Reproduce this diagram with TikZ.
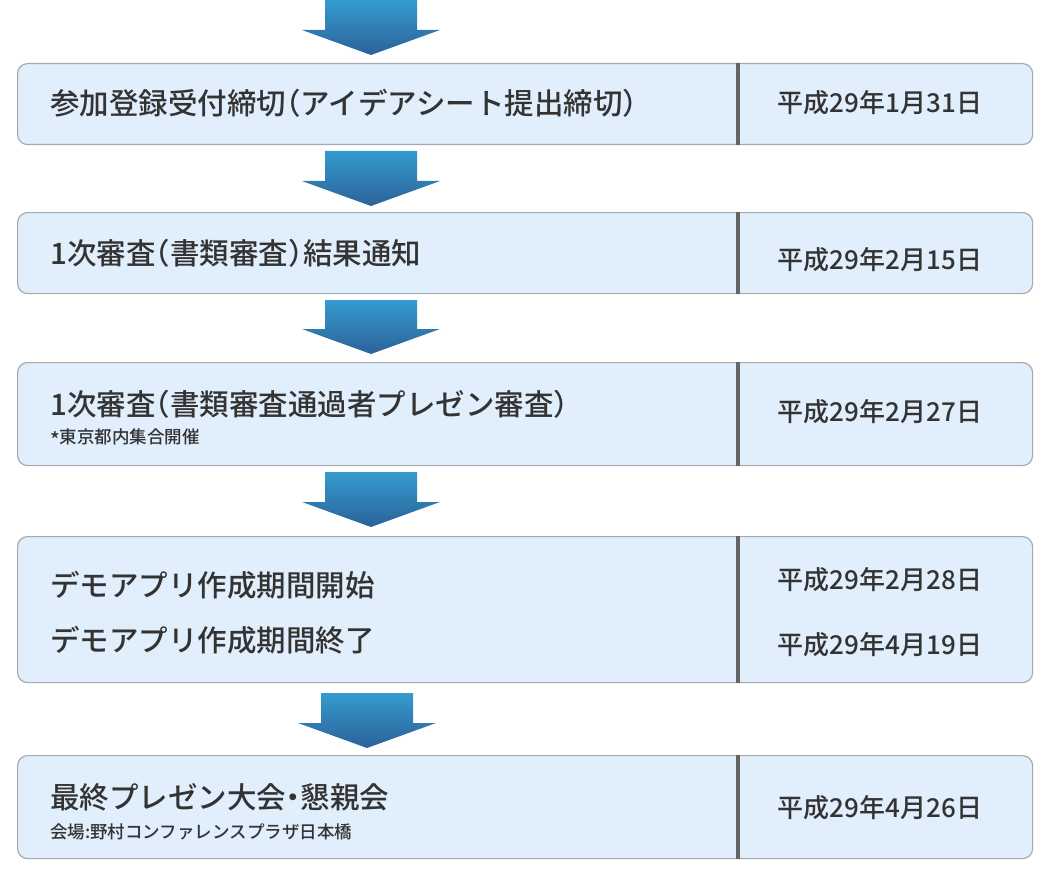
\documentclass[tikz,border=0pt]{standalone}
\usepackage{fontspec}
\newfontfamily\jpfont{Noto Sans CJK JP Medium}
\newfontfamily\jphalf[RawFeature=+halt]{Noto Sans CJK JP Medium}
\newcommand\hp[1]{{\jphalf #1}}
\definecolor{boxfill}{RGB}{225,238,252}
\definecolor{boxline}{RGB}{165,170,178}
\definecolor{divline}{RGB}{100,100,100}
\definecolor{txt}{RGB}{51,51,51}
\definecolor{arrtop}{RGB}{52,155,206}
\definecolor{arrbot}{RGB}{44,98,154}
\newcommand\flowarrow[4]{% center x, top y, tip y, name
  \shade[top color=arrtop, bottom color=arrbot]
    (#1-46,#2) -- (#1+46,#2) -- (#1+46,#3-25) -- (#1+69,#3-25) -- (#1,#3)
    -- (#1-69,#3-25) -- (#1-46,#3-25) -- cycle;
  \coordinate (#4) at (#1,#3);
}
\begin{document}
\begin{tikzpicture}[x=1pt,y=-1pt,
  stagebox/.style={draw=boxline, line width=1.2pt, fill=boxfill, rounded corners=10pt,
    minimum width=1015pt, anchor=north west, inner sep=0pt},
  divider/.style={draw=divline, line width=4pt},
  maintext/.style={font=\jpfont\fontsize{29.5}{33}\selectfont, text=txt, anchor=west, inner sep=0pt},
  smalltext/.style={font=\jpfont\fontsize{17.5}{20}\selectfont, text=txt, anchor=west, inner sep=0pt},
  datetext/.style={font=\jpfont\fontsize{26}{30}\selectfont, text=txt, inner sep=0pt}]
\useasboundingbox (0,0) rectangle (1051,869);

% arrows
\flowarrow{371}{0}{55}{a1}
\flowarrow{371}{151}{206}{a2}
\flowarrow{371}{300}{354}{a3}
\flowarrow{371}{472}{527}{a4}
\flowarrow{367}{693}{748}{a5}

% box 1
\node[stagebox, minimum height=81pt] (b1) at (17,63) {};
\draw[divider] ([xshift=721pt]b1.north west) -- ([xshift=721pt]b1.south west);
\node[maintext] (t1) at (50,103) {参加登録受付締切\hp{（}アイデアシート提出締切\hp{）}};
\node[datetext] (d1) at (880,103) {平成29年1月31日};

% box 2
\node[stagebox, minimum height=81pt] (b2) at (17,212) {};
\draw[divider] ([xshift=721pt]b2.north west) -- ([xshift=721pt]b2.south west);
\node[maintext] (t2) at (50,253) {1次審査\hp{（}書類審査\hp{）}結果通知};
\node[datetext] (d2) at (880,260) {平成29年2月15日};

% box 3
\node[stagebox, minimum height=103pt] (b3) at (17,362) {};
\draw[divider] ([xshift=721pt]b3.north west) -- ([xshift=721pt]b3.south west);
\node[maintext] (t3) at (50,404) {1次審査\hp{（}書類審査通過者プレゼン審査\hp{）}};
\node[smalltext] (s3) at (50,438) {\raisebox{-4.5pt}{\fontsize{20}{20}\selectfont *}東京都内集合開催};
\node[datetext] (d3) at (880,412) {平成29年2月27日};

% box 4
\node[stagebox, minimum height=146pt] (b4) at (17,536) {};
\draw[divider] ([xshift=721pt]b4.north west) -- ([xshift=721pt]b4.south west);
\node[maintext] (t4a) at (50,585) {デモアプリ作成期間開始};
\node[maintext] (t4b) at (50,640) {デモアプリ作成期間終了};
\node[datetext] (d4a) at (880,580) {平成29年2月28日};
\node[datetext] (d4b) at (880,645) {平成29年4月19日};

% box 5
\node[stagebox, minimum height=103pt] (b5) at (17,755) {};
\draw[divider] ([xshift=721pt]b5.north west) -- ([xshift=721pt]b5.south west);
\node[maintext] (t5) at (50,797) {最終プレゼン大会\hp{・}懇親会};
\node[smalltext] (s5) at (50,832) {会場:野村コンファレンスプラザ日本橋};
\node[datetext] (d5) at (880,808) {平成29年4月26日};
\end{tikzpicture}
\end{document}
